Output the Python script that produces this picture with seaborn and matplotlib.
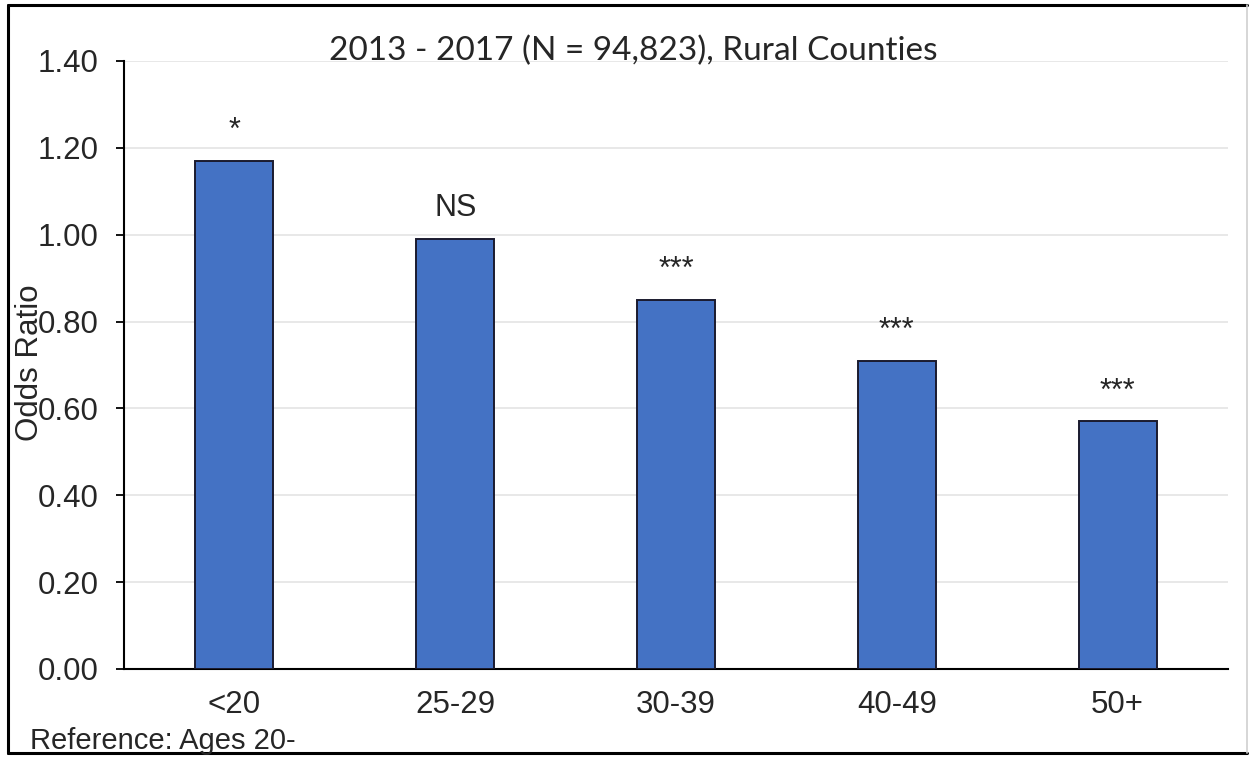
import matplotlib
matplotlib.use("Agg")
import matplotlib.pyplot as plt
import pandas as pd
import seaborn as sns
from matplotlib.lines import Line2D

# values
AGE_GROUPS = ["<20", "25-29", "30-39", "40-49", "50+"]
ODDS_RATIOS = [1.17, 0.99, 0.85, 0.71, 0.57]
SIGNIFICANCE = ["*", "NS", "***", "***", "***"]
Y_TICKS = [0.0, 0.2, 0.4, 0.6, 0.8, 1.0, 1.2, 1.4]

TITLE = "2013 - 2017 (N = 94,823), Rural Counties"
Y_LABEL = "Odds Ratio"
FOOTNOTE = "Reference: Ages 20-"

BAR_COLOR = "#4472C4"
TEXT_COLOR = "#262626"


def main() -> None:
    sns.set_theme(style="white")
    plt.rcParams["font.family"] = ["Liberation Sans", "DejaVu Sans"]

    df = pd.DataFrame({"age": AGE_GROUPS, "odds": ODDS_RATIOS})

    fig = plt.figure(figsize=(12.53, 7.57), dpi=100)
    ax = fig.add_axes([124 / 1253, 1 - 669 / 757, (1228 - 124) / 1253, (669 - 61) / 757])

    sns.barplot(
        data=df,
        x="age",
        y="odds",
        color=BAR_COLOR,
        saturation=1,
        width=0.354,
        edgecolor="#1a1a2e",
        linewidth=1.4,
        ax=ax,
        zorder=3,
    )

    ax.set_xlim(-0.5, len(AGE_GROUPS) - 0.5)
    ax.set_ylim(0, 1.4)
    ax.set_yticks(Y_TICKS)
    ax.set_yticklabels([f"{t:.2f}" for t in Y_TICKS])
    ax.set_xlabel("")
    ax.set_ylabel("")

    ax.grid(axis="y", color="#e4e4e4", linewidth=1.2, zorder=0)
    ax.set_axisbelow(True)
    for side in ["top", "right"]:
        ax.spines[side].set_visible(False)
    for side in ["left", "bottom"]:
        ax.spines[side].set_color("black")
        ax.spines[side].set_linewidth(1.5)

    ax.tick_params(axis="y", which="both", left=True, length=6, width=1.3,
                   color="black", labelsize=22.5, labelcolor=TEXT_COLOR, pad=12)
    ax.tick_params(axis="x", bottom=False, labelsize=22.5, labelcolor=TEXT_COLOR, pad=9)

    # significance markers above the bars
    for i, (val, sig) in enumerate(zip(ODDS_RATIOS, SIGNIFICANCE)):
        offset = 31 if sig == "NS" else 30
        ax.annotate(sig, xy=(i, val), xytext=(0, offset), textcoords="offset pixels",
                    ha="center", va="center", fontsize=22, color=TEXT_COLOR)

    fig.text(633 / 1253, 1 - 51 / 757, TITLE, ha="center", va="center",
             fontsize=24, color=TEXT_COLOR, family=["Lato", "DejaVu Sans"])
    # the y label sits on top of the tick labels, as in the reference
    fig.text(30 / 1253, 1 - 363 / 757, Y_LABEL, ha="center", va="center",
             rotation=90, fontsize=22.5, color=TEXT_COLOR)
    fig.text(30 / 1253, 1 - 741 / 757, FOOTNOTE, ha="left", va="center",
             fontsize=21, color=TEXT_COLOR)

    # frame around the whole figure
    W, H = 1253, 757
    left, right, top, bottom = 8 / W, 1247 / W, 1 - 5 / H, 4 / H
    fig.add_artist(Line2D([left, left], [bottom, top], transform=fig.transFigure, color="black", lw=2.2))
    fig.add_artist(Line2D([left, right], [top, top], transform=fig.transFigure, color="black", lw=2.2))
    fig.add_artist(Line2D([left, right], [bottom, bottom], transform=fig.transFigure, color="black", lw=2.2))
    fig.add_artist(Line2D([right, right], [bottom, top], transform=fig.transFigure, color="#d0d0d0", lw=1.2))

    fig.savefig("out.png", dpi=100)
    plt.close(fig)


if __name__ == "__main__":
    main()
